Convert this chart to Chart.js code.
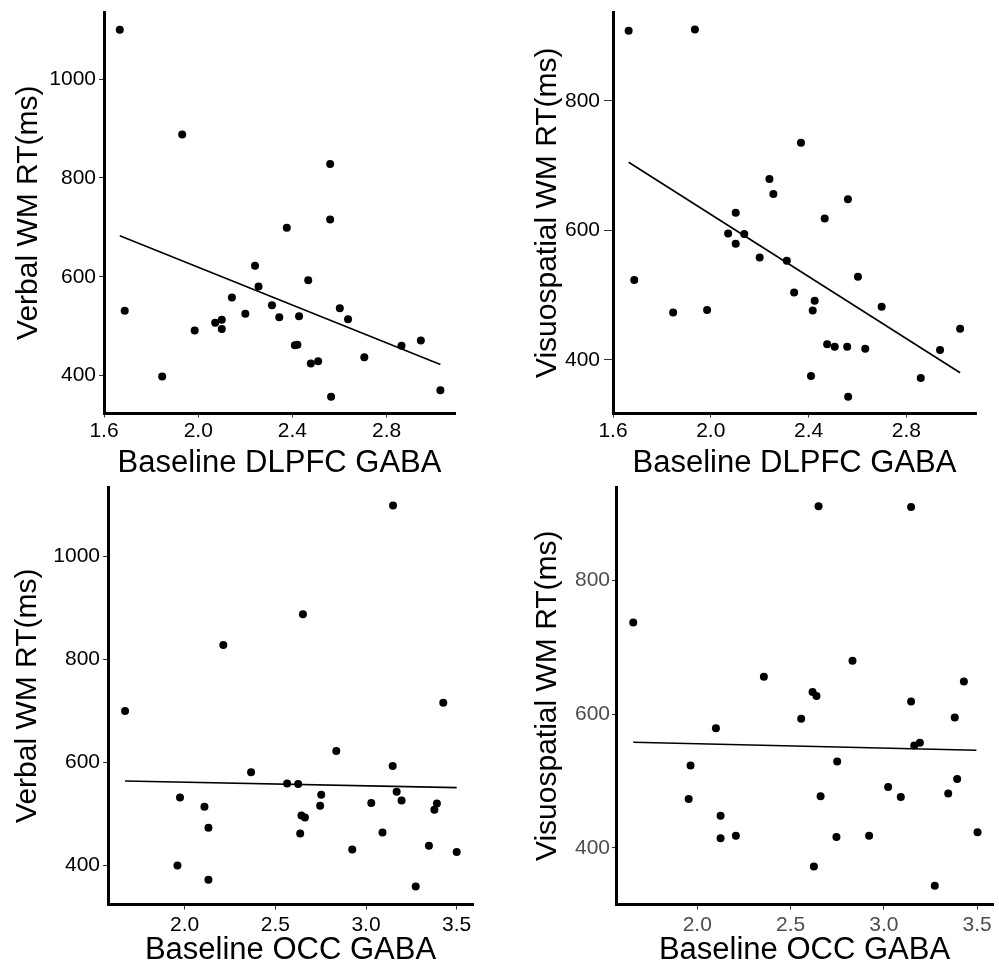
<!DOCTYPE html>
<html>
<head>
<meta charset="utf-8">
<script src="https://cdn.jsdelivr.net/npm/chart.js@4.4.1/dist/chart.umd.min.js"></script>
<style>
  html, body { margin: 0; padding: 0; background: #fff; }
  body { width: 999px; height: 963px; position: relative; overflow: hidden; }
  canvas { position: absolute; }
</style>
</head>
<body>
<canvas id="p1" width="499" height="500" style="left:0;top:0"></canvas>
<canvas id="p2" width="499" height="500" style="left:500px;top:0"></canvas>
<canvas id="p3" width="499" height="500" style="left:0;top:480px"></canvas>
<canvas id="p4" width="499" height="500" style="left:500px;top:480px"></canvas>
<script>
// values (30 subjects per panel)
const dlpfcGabaA = [1.667, 1.688, 1.847, 1.932, 1.985, 2.072, 2.100, 2.100, 2.143, 2.200, 2.241, 2.256, 2.313, 2.344, 2.376, 2.410, 2.421, 2.428, 2.467, 2.478, 2.509, 2.560, 2.560, 2.564, 2.601, 2.636, 2.705, 2.863, 2.945, 3.028];
const verbalRtA = [1100, 531, 398, 888, 491, 507, 513, 494, 558, 525, 622, 580, 542, 518, 699, 461, 462, 520, 593, 424, 429, 828, 716, 357, 536, 514, 437, 460, 471, 370];

const dlpfcGabaB = [1.664, 1.935, 1.687, 1.846, 1.985, 2.071, 2.102, 2.102, 2.137, 2.200, 2.240, 2.256, 2.311, 2.341, 2.369, 2.410, 2.417, 2.425, 2.466, 2.476, 2.507, 2.561, 2.558, 2.562, 2.602, 2.632, 2.699, 2.859, 2.938, 3.020];
const visuoRtB = [908, 910, 523, 473, 477, 595, 627, 579, 594, 558, 679, 656, 553, 504, 735, 375, 476, 491, 618, 424, 420, 648, 420, 343, 528, 417, 482, 372, 415, 448];

const occGabaC = [1.671, 1.960, 1.974, 2.109, 2.131, 2.131, 2.213, 2.366, 2.565, 2.626, 2.644, 2.663, 2.637, 2.652, 2.753, 2.747, 2.836, 2.924, 3.029, 3.091, 3.149, 3.147, 3.169, 3.196, 3.274, 3.347, 3.377, 3.391, 3.426, 3.500];
const verbalRtC = [700, 400, 532, 514, 473, 372, 828, 581, 559, 558, 497, 493, 462, 888, 537, 516, 622, 431, 521, 464, 1099, 593, 543, 526, 359, 438, 508, 520, 716, 426];

const occGabaD = [1.657, 1.954, 1.964, 2.100, 2.125, 2.125, 2.207, 2.357, 2.557, 2.618, 2.639, 2.625, 2.650, 2.661, 2.750, 2.746, 2.832, 2.921, 3.023, 3.091, 3.146, 3.146, 3.163, 3.193, 3.273, 3.345, 3.393, 3.380, 3.429, 3.502];
const visuoRtD = [737, 473, 523, 579, 448, 414, 418, 656, 593, 633, 627, 372, 911, 477, 529, 416, 680, 418, 491, 476, 910, 619, 553, 557, 343, 481, 503, 595, 649, 423];

// fitted line end points
const fitXA = [1.667, 3.028], fitYA = [683, 422];
const fitXB = [1.664, 3.020], fitYB = [705, 380];
const fitXC = [1.671, 3.500], fitYC = [564, 551];
const fitXD = [1.657, 3.496], fitYD = [558, 546];

const dlpfcTicks = [1.6, 2.0, 2.4, 2.8];
const occTicks = [2.0, 2.5, 3.0, 3.5];
const verbalTicks = [400, 600, 800, 1000];
const visuoTicks = [400, 600, 800];

Chart.defaults.font.family = "'Liberation Sans', Arial, sans-serif";
Chart.defaults.color = "#000";

function toPoints(xs, ys) {
    return xs.map((x, i) => ({ x: x, y: ys[i] }));
}

function makePanel(id, p) {
    const tickCol = p.tickCol || "#000";
    return new Chart(document.getElementById(id), {
        type: "scatter",
        data: {
            datasets: [
                {
                    data: toPoints(p.xs, p.ys),
                    pointRadius: 4,
                    backgroundColor: "#000",
                    borderWidth: 0,
                },
                {
                    type: "line",
                    data: toPoints(p.fitX, p.fitY),
                    borderColor: "#000",
                    borderWidth: 1.6,
                    pointRadius: 0,
                    fill: false,
                },
            ],
        },
        options: {
            responsive: false,
            animation: false,
            events: [],
            layout: { padding: { top: p.top, right: p.right, left: 0, bottom: 0 } },
            plugins: { legend: { display: false }, tooltip: { enabled: false } },
            scales: {
                x: {
                    type: "linear",
                    min: p.xMin,
                    max: p.xMax,
                    afterFit: (s) => {
                        s.height = p.xHeight;
                        s.paddingLeft = 0;
                        s.paddingRight = 0;
                    },
                    afterBuildTicks: (s) => { s.ticks = p.xTicks.map((v) => ({ value: v })); },
                    ticks: {
                        color: tickCol,
                        font: { size: 21 },
                        padding: p.xPad,
                        maxRotation: 0,
                        callback: (v) => v.toFixed(1),
                    },
                    grid: { drawOnChartArea: false, tickLength: p.xTl, tickColor: "#333", tickWidth: 1 },
                    border: { color: "#000", width: 3 },
                    title: {
                        display: true,
                        text: p.xTitle,
                        font: { size: 31 },
                        color: "#000",
                        padding: { top: 0, bottom: p.xTitlePad },
                    },
                },
                y: {
                    min: p.yMin,
                    max: p.yMax,
                    afterFit: (s) => {
                        s.width = p.yWidth;
                        s.paddingTop = 0;
                        s.paddingBottom = 0;
                    },
                    afterBuildTicks: (s) => { s.ticks = p.yTicks.map((v) => ({ value: v })); },
                    ticks: { color: tickCol, font: { size: 21 }, padding: p.yPad, callback: (v) => String(v) },
                    grid: { drawOnChartArea: false, tickLength: p.yTl, tickColor: "#333", tickWidth: 1 },
                    border: { color: "#000", width: 3 },
                    title: {
                        display: true,
                        text: p.yTitle,
                        font: { size: 30 },
                        color: "#000",
                        padding: { top: p.yTitlePad, bottom: 0 },
                    },
                },
            },
        },
    });
}

makePanel("p1", {
    xs: dlpfcGabaA, ys: verbalRtA, fitX: fitXA, fitY: fitYA,
    xTicks: dlpfcTicks, yTicks: verbalTicks,
    xMin: 1.6, xMax: 3.09, yMin: 323, yMax: 1136,
    top: 12, right: 44, yWidth: 104, xHeight: 86.5,
    xTl: 4, xPad: 1.5, yTl: 5, yPad: 3, xTitlePad: 18, yTitlePad: 10.5,
    xTitle: "Baseline DLPFC GABA", yTitle: "Verbal WM RT(ms)",
});

makePanel("p2", {
    xs: dlpfcGabaB, ys: visuoRtB, fitX: fitXB, fitY: fitYB,
    xTicks: dlpfcTicks, yTicks: visuoTicks,
    xMin: 1.6, xMax: 3.085, yMin: 317, yMax: 937,
    top: 12, right: 23, yWidth: 113, xHeight: 86.5,
    xTl: 4, xPad: 1.5, yTl: 9, yPad: 4, xTitlePad: 18, yTitlePad: 29.5,
    xTitle: "Baseline DLPFC GABA", yTitle: "Visuospatial WM RT(ms)",
});

makePanel("p3", {
    xs: occGabaC, ys: verbalRtC, fitX: fitXC, fitY: fitYC,
    xTicks: occTicks, yTicks: verbalTicks,
    xMin: 1.577, xMax: 3.59, yMin: 324, yMax: 1135,
    top: 7, right: 26, yWidth: 108, xHeight: 75.5,
    xTl: 5, xPad: 3, yTl: 5, yPad: 3, xTitlePad: 11, yTitlePad: 10,
    xTitle: "Baseline OCC GABA", yTitle: "Verbal WM RT(ms)",
});

makePanel("p4", {
    xs: occGabaD, ys: visuoRtD, fitX: fitXD, fitY: fitYD,
    xTicks: occTicks, yTicks: visuoTicks,
    xMin: 1.5645, xMax: 3.585, yMin: 315, yMax: 940,
    top: 7, right: 6, yWidth: 116, xHeight: 75.5,
    xTl: 5, xPad: 3, yTl: 4, yPad: 2, xTitlePad: 11, yTitlePad: 29.5,
    xTitle: "Baseline OCC GABA", yTitle: "Visuospatial WM RT(ms)", tickCol: "#4d4d4d",
});
</script>
</body>
</html>
